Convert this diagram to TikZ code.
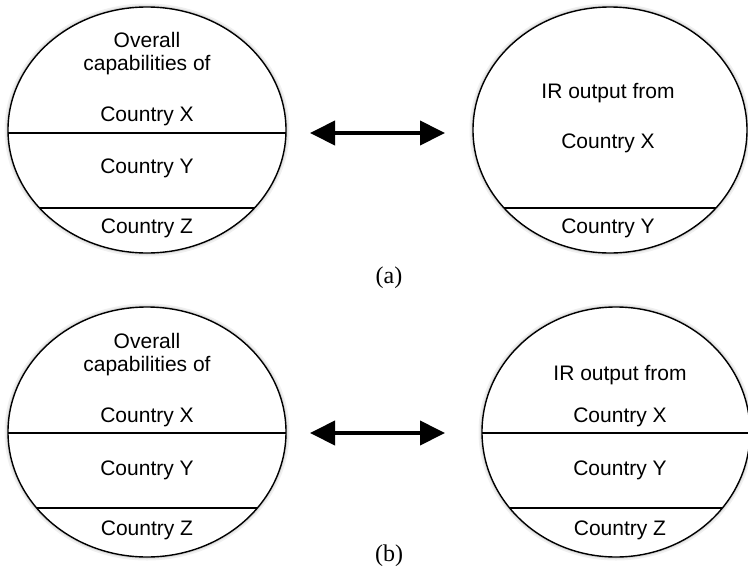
\documentclass[tikz,border=0pt]{standalone}
\usepackage{fontspec}
\setmainfont{Liberation Sans}
\newfontfamily\serifcap{Liberation Serif}
\usetikzlibrary{arrows.meta}
\tikzset{
  lbl/.style={anchor=base, inner sep=0pt, font=\fontsize{21}{24}\selectfont},
  subcap/.style={anchor=base, inner sep=0pt, font=\serifcap\fontsize{24}{28}\selectfont},
  outline/.style={line width=1.4pt, draw=black},
  halo1/.style={line width=7pt, draw=black!6},
  halo2/.style={line width=3.5pt, draw=black!14},
  dbl/.style={line width=4pt, {Triangle[length=25pt,width=24pt]}-{Triangle[length=25pt,width=24pt]}},
  divider/.style={line width=1.4pt}
}
\newcommand{\circlepart}[4]{% cx cy rx ry
  \draw[halo1] (#1,#2) ellipse [x radius=#3pt, y radius=#4pt];
  \draw[halo2] (#1,#2) ellipse [x radius=#3pt, y radius=#4pt];
  \fill[white] (#1,#2) ellipse [x radius=#3pt, y radius=#4pt];
}
\begin{document}
\begin{tikzpicture}[x=1pt,y=-1pt]
\useasboundingbox (0,0) rectangle (748,571);
% ---------- (a) ----------
\circlepart{147}{130}{139}{123}
\circlepart{610}{130}{137}{123}
\begin{scope}
  \clip (147,130) ellipse [x radius=139pt, y radius=123pt];
  \draw[divider] (0,133) -- (300,133);
  \draw[divider] (0,208) -- (300,208);
\end{scope}
\draw[outline] (147,130) ellipse [x radius=139pt, y radius=123pt];
\begin{scope}
  \clip (610,130) ellipse [x radius=137pt, y radius=123pt];
  \draw[divider] (460,208) -- (760,208);
\end{scope}
\draw[outline] (610,130) ellipse [x radius=137pt, y radius=123pt];

\node[lbl] (aL1) at (147,47) {Overall};
\node[lbl] (aL2) at (147,70) {capabilities of};
\node[lbl] (aLX) at (147,121) {Country X};
\node[lbl] (aLY) at (147,173) {Country Y};
\node[lbl] (aLZ) at (147,233) {Country Z};

\node[lbl] (aR1) at (608,98) {IR output from};
\node[lbl] (aRX) at (608,148) {Country X};
\node[lbl] (aRY) at (608,233) {Country Y};

\coordinate (aA) at (310,133);
\coordinate (aB) at (445,133);
\draw[dbl] (aA) -- (aB);
\node[subcap] (capa) at (389,283) {(a)};

% ---------- (b) ----------
\circlepart{147}{432}{139}{125}
\circlepart{616}{432}{134}{125}
\begin{scope}
  \clip (147,432) ellipse [x radius=139pt, y radius=125pt];
  \draw[divider] (0,433) -- (300,433);
  \draw[divider] (0,508) -- (300,508);
\end{scope}
\draw[outline] (147,432) ellipse [x radius=139pt, y radius=125pt];
\begin{scope}
  \clip (616,432) ellipse [x radius=134pt, y radius=125pt];
  \draw[divider] (460,433) -- (760,433);
  \draw[divider] (460,508) -- (760,508);
\end{scope}
\draw[outline] (616,432) ellipse [x radius=134pt, y radius=125pt];

\node[lbl] (bL1) at (147,348) {Overall};
\node[lbl] (bL2) at (147,371) {capabilities of};
\node[lbl] (bLX) at (147,422) {Country X};
\node[lbl] (bLY) at (147,475) {Country Y};
\node[lbl] (bLZ) at (147,535) {Country Z};

\node[lbl] (bR1) at (620,380) {IR output from};
\node[lbl] (bRX) at (620,422) {Country X};
\node[lbl] (bRY) at (620,475) {Country Y};
\node[lbl] (bRZ) at (620,535) {Country Z};

\coordinate (bA) at (310,433);
\coordinate (bB) at (445,433);
\draw[dbl] (bA) -- (bB);
\node[subcap] (capb) at (389,561) {(b)};
\end{tikzpicture}
\end{document}
